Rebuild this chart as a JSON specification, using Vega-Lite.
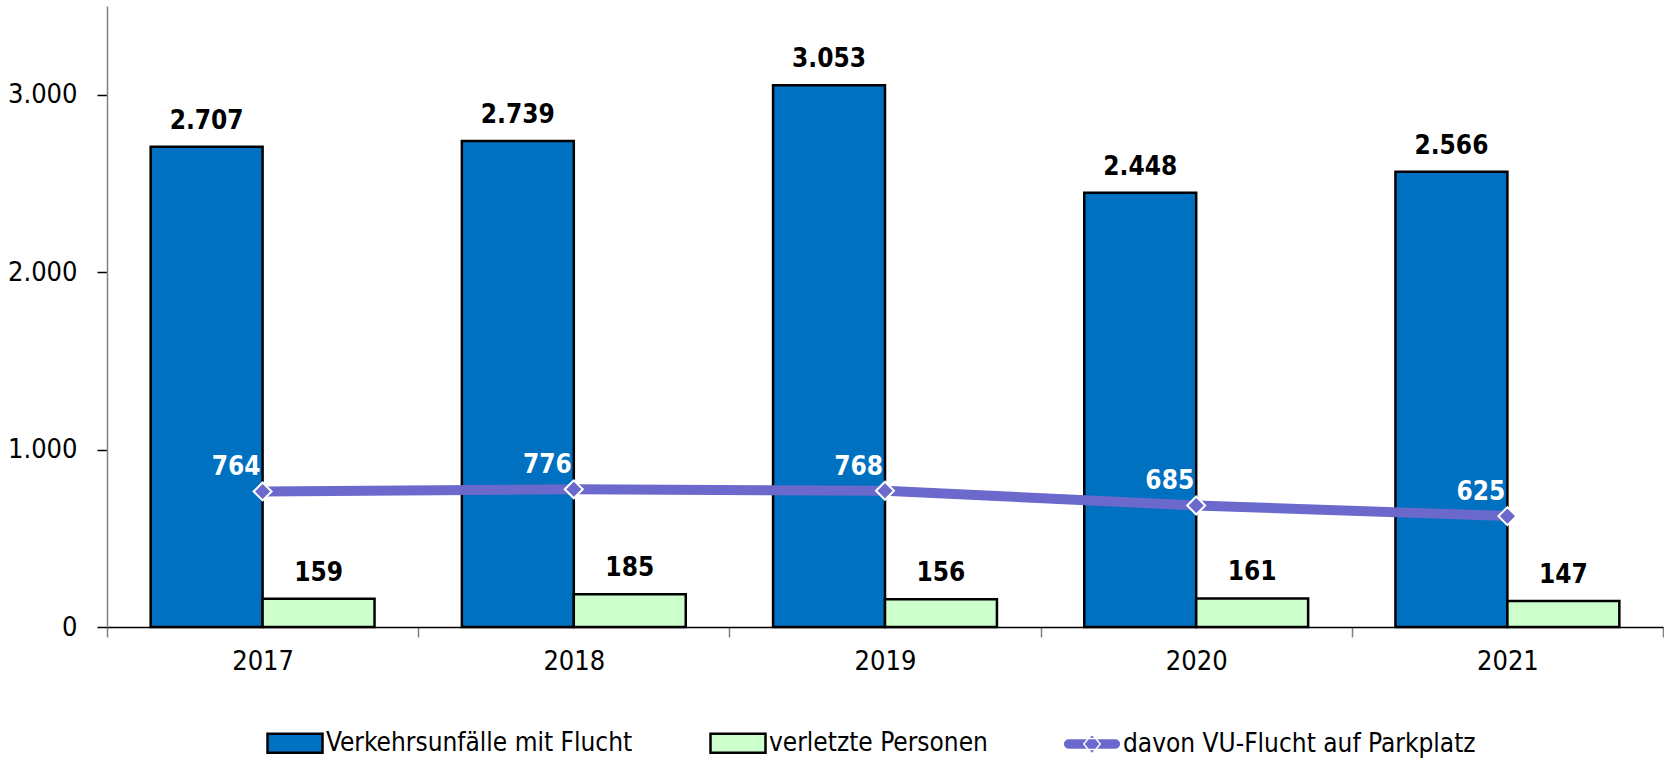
{
  "$schema": "https://vega.github.io/schema/vega-lite/v6.json",
  "width": 1556,
  "height": 621,
  "autosize": {"type": "none"},
  "padding": {"left": 107, "top": 6, "right": 1, "bottom": 134},
  "background": "white",
  "datasets": {
    "bars": [
      {"year": "2017", "series": "Verkehrsunfälle mit Flucht", "value": 2707},
      {"year": "2018", "series": "Verkehrsunfälle mit Flucht", "value": 2739},
      {"year": "2019", "series": "Verkehrsunfälle mit Flucht", "value": 3053},
      {"year": "2020", "series": "Verkehrsunfälle mit Flucht", "value": 2448},
      {"year": "2021", "series": "Verkehrsunfälle mit Flucht", "value": 2566},
      {"year": "2017", "series": "verletzte Personen", "value": 159},
      {"year": "2018", "series": "verletzte Personen", "value": 185},
      {"year": "2019", "series": "verletzte Personen", "value": 156},
      {"year": "2020", "series": "verletzte Personen", "value": 161},
      {"year": "2021", "series": "verletzte Personen", "value": 147}
    ],
    "line": [
      {"year": "2017", "value": 764},
      {"year": "2018", "value": 776},
      {"year": "2019", "value": 768},
      {"year": "2020", "value": 685},
      {"year": "2021", "value": 625}
    ]
  },
  "encoding": {
    "x": {
      "field": "year", "type": "nominal", "title": null,
      "scale": {"paddingInner": 0, "paddingOuter": 0},
      "axis": {
        "labelAngle": 0, "labelFont": "DejaVu Sans Condensed, Liberation Sans, sans-serif", "labelFontSize": 27,
        "labelColor": "black", "labelPadding": 11,
        "tickBand": "extent", "tickSize": 10, "tickColor": "#808080", "tickWidth": 1.5,
        "domainColor": "black", "domainWidth": 1.5
      }
    },
    "y": {
      "field": "value", "type": "quantitative", "title": null,
      "scale": {"domain": [0, 3500], "nice": false},
      "axis": {
        "values": [0, 1000, 2000, 3000], "grid": false,
        "labelFont": "DejaVu Sans Condensed, Liberation Sans, sans-serif", "labelFontSize": 27, "labelColor": "black",
        "labelPadding": 20, "tickSize": 10, "tickColor": "black", "tickWidth": 1.5,
        "domainColor": "#808080", "domainWidth": 1.5, "format": ",d"
      }
    }
  },
  "layer": [
    {
      "data": {"name": "bars"},
      "mark": {"type": "bar", "stroke": "black", "strokeWidth": 2.5},
      "encoding": {
        "xOffset": {
          "field": "series", "type": "nominal",
          "scale": {"domain": ["Verkehrsunfälle mit Flucht", "verletzte Personen"], "paddingInner": 0, "paddingOuter": 0.39}
        },
        "color": {
          "field": "series", "type": "nominal",
          "scale": {
            "domain": ["Verkehrsunfälle mit Flucht", "verletzte Personen", "davon VU-Flucht auf Parkplatz"],
            "range": ["#0070c0", "#ccffcc", "#6b69cc"]
          },
          "legend": {
            "title": null, "orient": "none", "direction": "horizontal",
            "legendX": 175, "legendY": 724,
            "labelFont": "DejaVu Sans Condensed, Liberation Sans, sans-serif", "labelFontSize": 26, "labelColor": "black",
            "labelLimit": 500, "labelOffset": 18, "columnPadding": 72,
            "symbolType": "M-1,-0.345H1V0.345H-1Z", "symbolSize": 3025,
            "symbolStrokeWidth": 2.5, "symbolStrokeColor": "black",
            "encode": {
              "symbols": {
                "update": {
                  "shape": {"signal": "datum.value === 'davon VU-Flucht auf Parkplatz' ? 'M-0.85,-0.2H0.85A0.2,0.2 0 0 1 0.85,0.2H-0.85A0.2,0.2 0 0 1 -0.85,-0.2Z M0,-0.36L0.3,0L0,0.36L-0.3,0Z' : 'M-1,-0.345H1V0.345H-1Z'"},
                  "stroke": {"signal": "datum.value === 'davon VU-Flucht auf Parkplatz' ? 'white' : 'black'"},
                  "strokeWidth": {"signal": "datum.value === 'davon VU-Flucht auf Parkplatz' ? 1.5 : 2.5"},
                  "fill": {"signal": "scale('color', datum.value)"},
                  "opacity": {"value": 1},
                  "fillOpacity": {"value": 1}
                }
              }
            }
          }
        }
      }
    },
    {
      "data": {"name": "bars"},
      "mark": {"type": "text", "font": "DejaVu Sans Condensed, Liberation Sans, sans-serif", "fontSize": 26, "fontWeight": "bold", "color": "black", "baseline": "alphabetic", "dy": -18},
      "encoding": {
        "xOffset": {"field": "series", "type": "nominal"},
        "text": {"field": "value", "type": "quantitative", "format": ","}
      }
    },
    {
      "data": {"name": "line"},
      "mark": {"type": "line", "color": "#6b69cc", "strokeWidth": 10},
      "encoding": {}
    },
    {
      "data": {"name": "line"},
      "mark": {"type": "point", "shape": "diamond", "filled": true, "fill": "#6b69cc", "stroke": "white", "strokeWidth": 2, "size": 324, "opacity": 1},
      "encoding": {}
    },
    {
      "data": {"name": "line"},
      "mark": {"type": "text", "font": "DejaVu Sans Condensed, Liberation Sans, sans-serif", "fontSize": 26, "fontWeight": "bold", "color": "white", "align": "right", "baseline": "alphabetic", "dx": -2, "dy": -16},
      "encoding": {
        "text": {"field": "value", "type": "quantitative", "format": ","}
      }
    }
  ],
  "config": {
    "view": {"stroke": null},
    "locale": {"number": {"decimal": ",", "thousands": ".", "grouping": [3], "currency": ["", " €"]}}
  }
}
